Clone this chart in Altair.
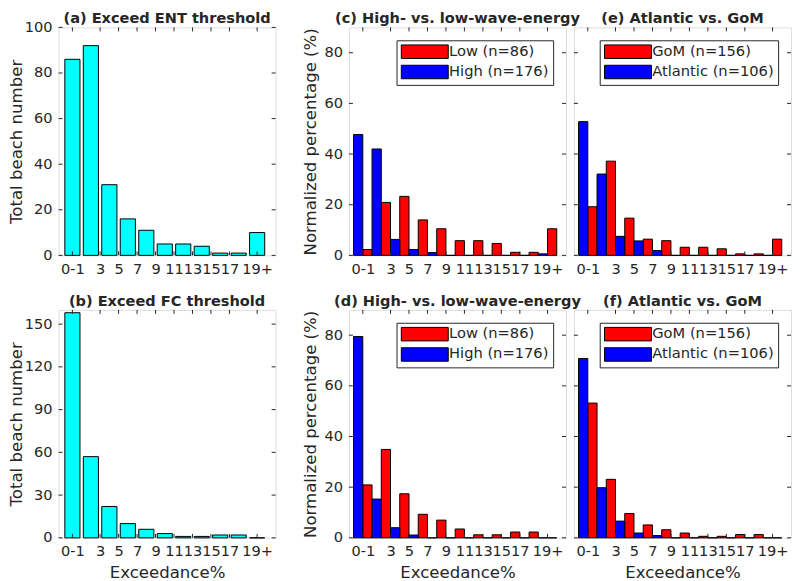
import altair as alt
import pandas as pd

# ---------------- data ----------------
bin_index = [1, 2, 3, 4, 5, 6, 7, 8, 9, 10, 11]
tick_pos = [1, 2.5, 3.5, 4.5, 5.5, 6.5, 7.5, 8.5, 9.5, 11]
tick_lab = ["0-1", "3", "5", "7", "9", "11", "13", "15", "17", "19+"]

ent_total = [86, 92, 31, 16, 11, 5, 5, 4, 1, 1, 10]
fc_total = [158, 57, 22, 10, 6, 3, 1, 1, 2, 2, 0]

ent_low = [2.3, 20.9, 23.3, 14.0, 10.5, 5.8, 5.8, 4.7, 1.2, 1.2, 10.5]
ent_high = [47.7, 42.0, 6.3, 2.3, 1.1, 0, 0, 0, 0, 0, 0.6]
fc_low = [20.9, 34.9, 17.4, 9.3, 7.0, 3.5, 1.2, 1.2, 2.3, 2.3, 0]
fc_high = [79.5, 15.3, 4.0, 1.1, 0, 0, 0, 0, 0, 0, 0]

ent_gom = [19.2, 37.2, 14.7, 6.4, 5.8, 3.2, 3.2, 2.6, 0.6, 0.6, 6.4]
ent_atl = [52.8, 32.1, 7.5, 5.7, 1.9, 0, 0, 0, 0, 0, 0]
fc_gom = [53.2, 23.1, 9.6, 5.1, 3.2, 1.9, 0.6, 0.6, 1.3, 1.3, 0]
fc_atl = [70.8, 19.8, 6.6, 1.9, 0.9, 0, 0, 0, 0, 0, 0]

wave_labels = ["Low (n=86)", "High (n=176)"]
region_labels = ["GoM (n=156)", "Atlantic (n=106)"]

# ---------------- styling ----------------
FONT = "DejaVu Sans"
INK = "#262626"
W, H = 219, 230
XDOM = [0.25, 12]
TL = 4  # inward tick length
GAP = 8
MIDGAP = 74  # frame-to-frame gap between first and second column

lab_expr = "[" + ",".join(f"'{l}'" for l in tick_lab) + "][indexof([" + \
    ",".join(str(p) for p in tick_pos) + "], datum.value)]"


def x_axis(title):
    kw = dict(values=tick_pos, labelExpr=lab_expr, ticks=False, tickSize=0,
              domain=False, grid=False, labelPadding=6, labelFontSize=14.7,
              labelFlush=False, labelOverlap=False, labelColor=INK,
              labelFont=FONT)
    if title:
        return alt.Axis(title=title, titleFont=FONT, titleFontSize=16.7,
                        titleFontWeight="normal", titleColor=INK,
                        titleBaseline="alphabetic", titleY=40, **kw)
    return alt.Axis(title="", **kw)


def y_axis(title, vals, tx):
    if title is None:
        return None
    return alt.Axis(title=title, values=vals, ticks=False, tickSize=0,
                    domain=False, grid=False, labelPadding=6.5,
                    labelFontSize=14.7, labelColor=INK, labelFont=FONT,
                    titleFont=FONT, titleFontSize=16.7, titleFontWeight="normal",
                    titleColor=INK, titleBaseline="alphabetic", titleAngle=270,
                    titleX=tx, titleY=H / 2)


def build_layers(bars_fn, ydom, yvals, xtitle, ytitle, tx, title):
    xs = alt.Scale(domain=XDOM, nice=False, zero=False)
    ys = alt.Scale(domain=ydom, nice=False)
    xa = x_axis(xtitle)
    ya = y_axis(ytitle, yvals, tx)
    bars = bars_fn(alt.X("x0:Q", scale=xs, axis=xa),
                   alt.Y("v:Q", scale=ys, axis=ya))
    xt = pd.DataFrame({"x0": tick_pos})
    yt = pd.DataFrame({"v": yvals})
    top = alt.Chart(xt).mark_rule(color=INK, strokeWidth=1).encode(
        x=alt.X("x0:Q", scale=xs, axis=xa), y=alt.value(0), y2=alt.value(TL))
    bot = alt.Chart(xt).mark_rule(color=INK, strokeWidth=1).encode(
        x=alt.X("x0:Q", scale=xs, axis=xa), y=alt.value(H), y2=alt.value(H - TL))
    left = alt.Chart(yt).mark_rule(color=INK, strokeWidth=1).encode(
        y=alt.Y("v:Q", scale=ys, axis=ya), x=alt.value(0), x2=alt.value(TL))
    right = alt.Chart(yt).mark_rule(color=INK, strokeWidth=1).encode(
        y=alt.Y("v:Q", scale=ys, axis=ya), x=alt.value(W), x2=alt.value(W - TL))
    ttl = alt.Chart(pd.DataFrame({"t": [title]})).mark_text(
        font=FONT, fontSize=14.7, fontWeight="bold", color=INK,
        align="center", baseline="alphabetic"
    ).encode(text="t:N", x=alt.value(W / 2), y=alt.value(-4))
    return alt.layer(bars, top, bot, left, right, ttl)


def single_panel(values, ydom, yvals, title, ytitle, xtitle):
    df = pd.DataFrame({"idx": bin_index, "v": values})

    def bars_fn(X, Y):
        return alt.Chart(df).transform_calculate(
            x0="datum.idx - 0.41", x1="datum.idx + 0.41"
        ).mark_bar(fill="#00FFFF", stroke="black", strokeWidth=1).encode(
            x=X, x2="x1:Q", y=Y, y2=alt.datum(0))

    return build_layers(bars_fn, ydom, yvals, xtitle, ytitle, -37,
                        title).properties(width=W, height=H)


def group_panel(first, second, labels, title, ytitle, xtitle):
    # labels[0] is the red series (drawn right), labels[1] the blue (drawn left)
    df = pd.concat([
        pd.DataFrame({"idx": bin_index, "v": first, "series": labels[0]}),
        pd.DataFrame({"idx": bin_index, "v": second, "series": labels[1]}),
    ])
    order = f"['{labels[1]}','{labels[0]}']"
    legend = alt.Legend(
        title=None, orient="top-right", offset=13, padding=4,
        symbolType="M-1,-1.02H6.1V1.02H-1Z", symbolSize=178,
        symbolStrokeColor="black", symbolStrokeWidth=1, symbolOpacity=1,
        labelOffset=34, labelFontSize=14.8, labelFont=FONT, labelColor=INK,
        rowPadding=1.5, strokeColor=INK, fillColor="white", labelLimit=300,
    )

    def bars_fn(X, Y):
        return alt.Chart(df).transform_calculate(
            side=f"indexof({order}, datum.series)"
        ).transform_calculate(
            x0="datum.idx - 0.5 + 0.5 * datum.side",
            x1="datum.idx + 0.5 * datum.side"
        ).mark_bar(stroke="black", strokeWidth=1, opacity=1).encode(
            x=X, x2="x1:Q", y=Y, y2=alt.datum(0),
            fill=alt.Fill("series:N",
                          scale=alt.Scale(domain=labels,
                                          range=["#FF0000", "#0000FF"]),
                          legend=legend),
        )

    return build_layers(bars_fn, [0, 90], [0, 20, 40, 60, 80], xtitle,
                        ytitle, -34, title).properties(width=W, height=H)


def spacer():
    return alt.Chart(pd.DataFrame({"s": [0]})).mark_point(opacity=0).encode(
        x=alt.value(1), y=alt.value(H / 2)
    ).properties(width=MIDGAP - 2 * GAP, height=H,
                 view=alt.ViewBackground(strokeOpacity=0))


pa = single_panel(ent_total, [0, 100], [0, 20, 40, 60, 80, 100],
                  "(a) Exceed ENT threshold", "Total beach number", None)
pb = single_panel(fc_total, [0, 160], [0, 30, 60, 90, 120, 150],
                  "(b) Exceed FC threshold", "Total beach number", "Exceedance%")
pc = group_panel(ent_low, ent_high, wave_labels, "(c) High- vs. low-wave-energy",
                 "Normalized percentage (%)", None)
pd_ = group_panel(fc_low, fc_high, wave_labels, "(d) High- vs. low-wave-energy",
                  "Normalized percentage (%)", "Exceedance%")
pe = group_panel(ent_gom, ent_atl, region_labels, "(e) Atlantic vs. GoM",
                 None, None)
pf = group_panel(fc_gom, fc_atl, region_labels, "(f) Atlantic vs. GoM",
                 None, "Exceedance%")

chart = alt.concat(
    pa, spacer(), pc, pe,
    pb, spacer(), pd_, pf,
    columns=4, spacing={"row": 55, "column": GAP}, bounds="flush",
).resolve_scale(fill="independent").resolve_legend(fill="independent").properties(
    padding={"left": 0, "top": 0, "right": 0, "bottom": 0}
).configure_view(stroke=INK, strokeWidth=1).configure(font=FONT)

chart.save("out.html", embed_options={"renderer": "svg", "actions": False})
